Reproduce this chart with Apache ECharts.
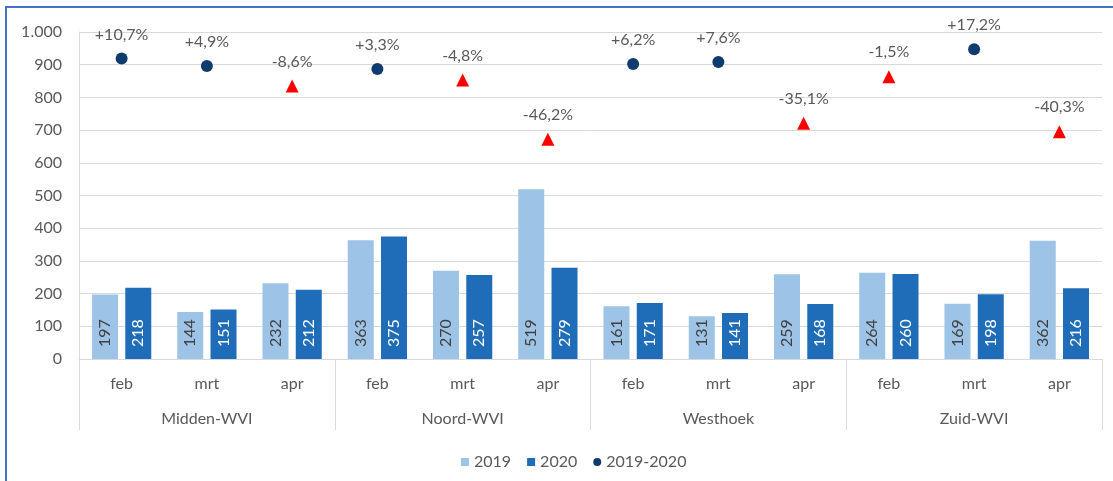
<!DOCTYPE html>
<html><head><meta charset="utf-8">
<script src="https://cdn.jsdelivr.net/npm/echarts@6/dist/echarts.min.js"></script>
<style>html,body{margin:0;padding:0;background:#fff}#c{width:1113px;height:481px}</style>
</head><body><div id="c"></div>
<script>
const regions = ['Midden-WVI','Noord-WVI','Westhoek','Zuid-WVI'];
const months = ['feb','mrt','apr','feb','mrt','apr','feb','mrt','apr','feb','mrt','apr'];
const values2019 = [197,144,232,363,270,519,161,131,259,264,169,362];
const values2020 = [218,151,212,375,257,279,171,141,168,260,198,216];
const changeLabels = ['+10,7%','+4,9%','-8,6%','+3,3%','-4,8%','-46,2%','+6,2%','+7,6%','-35,1%','-1,5%','+17,2%','-40,3%'];
const markerY = [919,896,835,887,853,672,902,908,721,863,947,695];
const yTicks = [0,100,200,300,400,500,600,700,800,900,1000];

const FONT = 'Lato';
const TXT = '#595959';
const C19 = '#9DC3E6', C20 = '#1F6DB8', NAVY = '#0F3B6E', RED = '#FF0000';
const FS = 16;

const chart = echarts.init(document.getElementById('c'));
const scatterData = markerY.map((v, i) => {
  const neg = changeLabels[i].startsWith('-');
  return {
    value: v,
    symbol: neg ? 'triangle' : 'circle',
    symbolSize: neg ? 13 : 12,
    itemStyle: { color: neg ? RED : NAVY, opacity: 1 }
  };
});
chart.setOption({
  animation: false,
  textStyle: { fontFamily: FONT },
  graphic: [{
    type: 'rect', shape: { x: 6, y: 7, width: 1200, height: 600 },
    style: { fill: 'none', stroke: '#4472C4', lineWidth: 2 }, silent: true
  }],
  grid: { left: 79, right: 11, top: 32, bottom: 122 },
  legend: {
    left: 456, top: 449, itemWidth: 8, itemHeight: 8, itemGap: 16,
    textStyle: { color: TXT, fontSize: FS, fontFamily: FONT },
    data: [
      { name: '2019', icon: 'rect' },
      { name: '2020', icon: 'rect' },
      { name: '2019-2020', icon: 'circle', itemStyle: { color: NAVY, opacity: 1 } }
    ]
  },
  xAxis: [{
    type: 'category', data: months, position: 'bottom',
    axisLine: { show: true, lineStyle: { color: '#D9D9D9' } },
    axisTick: { show: false },
    axisLabel: { color: TXT, fontSize: FS, fontFamily: FONT, margin: 17, interval: 0 }
  }, {
    type: 'category', data: regions, position: 'bottom',
    axisLine: { show: false },
    axisTick: { show: true, inside: false, length: 71, lineStyle: { color: '#D9D9D9' }, interval: 0 },
    axisLabel: { color: TXT, fontSize: FS, fontFamily: FONT, margin: 52, interval: 0 }
  }],
  yAxis: {
    type: 'value', min: yTicks[0], max: yTicks[yTicks.length - 1], interval: 100,
    axisLine: { show: true, lineStyle: { color: '#D9D9D9' } },
    axisTick: { show: false },
    splitLine: { lineStyle: { color: '#D9D9D9', width: 1 } },
    axisLabel: {
      color: TXT, fontSize: FS, fontFamily: FONT, margin: 17,
      formatter: v => v >= 1000 ? (Math.floor(v / 1000) + '.' + String(v % 1000).padStart(3, '0')) : String(v)
    }
  },
  series: [{
    name: '2019', type: 'bar', data: values2019, barWidth: 26, barGap: '28%',
    itemStyle: { color: C19 },
    label: { show: true, position: 'insideBottom', rotate: 90, align: 'left', verticalAlign: 'middle',
      distance: 12, color: '#404040', fontSize: FS, fontFamily: FONT }
  }, {
    name: '2020', type: 'bar', data: values2020, barWidth: 26,
    itemStyle: { color: C20 },
    label: { show: true, position: 'insideBottom', rotate: 90, align: 'left', verticalAlign: 'middle',
      distance: 12, color: '#FFFFFF', fontSize: FS, fontFamily: FONT }
  }, {
    name: '2019-2020', type: 'scatter', data: scatterData,
    itemStyle: { color: NAVY, opacity: 1 },
    label: { show: true, position: 'top', distance: 10, color: TXT, fontSize: FS, fontFamily: FONT,
      formatter: p => changeLabels[p.dataIndex] },
    z: 5
  }]
});
</script></body></html>
